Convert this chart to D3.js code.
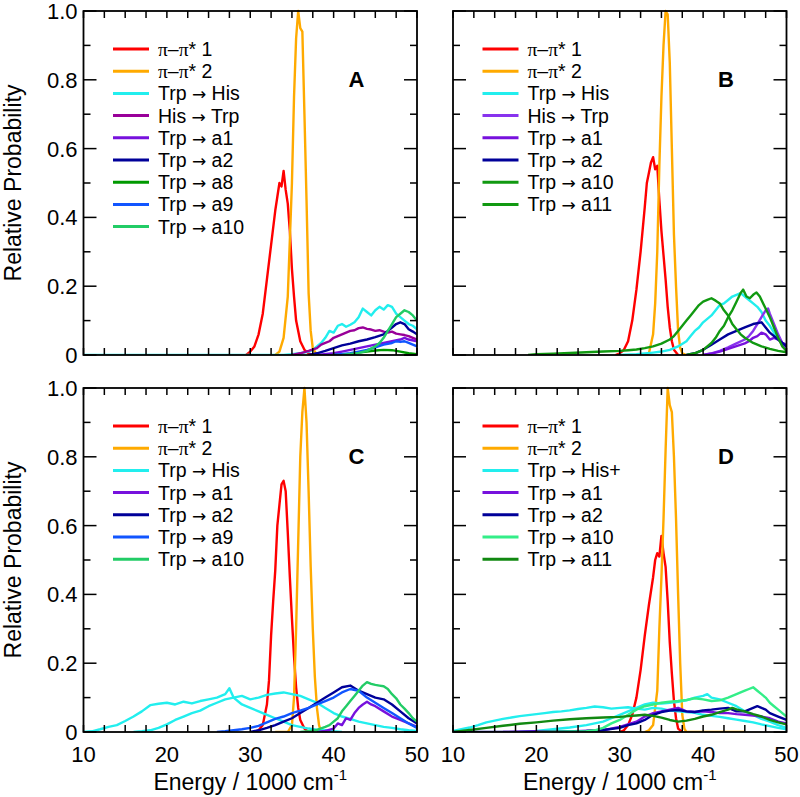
<!DOCTYPE html>
<html><head><meta charset="utf-8">
<script src="https://cdn.jsdelivr.net/npm/d3@7"></script>
<style>body{margin:0;background:#fff}svg{display:block}</style>
</head><body>
<svg id="chart" width="800" height="797"></svg>
<script>
// ---------- tick values ----------
const xTicks = [10,12.5,15,17.5,20,22.5,25,27.5,30,32.5,35,37.5,40,42.5,45,47.5,50];
const xTickLabels = [10,20,30,40,50];
const yTicks = [0,0.1,0.2,0.3,0.4,0.5,0.6,0.7,0.8,0.9,1.0];
const yTickLabels = [0,0.2,0.4,0.6,0.8,1.0];
const panelLetters = ["A","B","C","D"];

// ---------- Panel A data ----------
const A_pp1 = [[29.5,0],[30,0.01],[30.5,0.025],[31,0.06],[31.5,0.12],[32,0.22],[32.5,0.32],[33,0.42],[33.25,0.46],[33.5,0.5],[33.75,0.49],[34,0.535],[34.25,0.48],[34.5,0.44],[34.75,0.36],[35,0.25],[35.25,0.17],[35.5,0.1],[36,0.04],[36.5,0.015],[37,0.005],[37.5,0]];
const A_pp2 = [[33,0],[33.5,0.01],[34,0.05],[34.5,0.17],[35,0.5],[35.25,0.75],[35.5,0.92],[35.75,1.0],[36,0.95],[36.25,0.94],[36.5,0.7],[36.75,0.45],[37,0.18],[37.25,0.07],[37.5,0.02],[38,0]];
const A_his = [[10,0],[34,0],[35,0.002],[36,0.005],[37,0.01],[37.5,0.015],[38,0.025],[38.5,0.035],[39,0.05],[39.5,0.07],[40,0.065],[40.5,0.085],[41,0.09],[41.5,0.082],[42,0.088],[42.5,0.095],[43,0.11],[43.5,0.135],[44,0.125],[44.5,0.115],[45,0.13],[45.5,0.14],[46,0.132],[46.5,0.145],[47,0.14],[47.5,0.12],[48,0.11],[48.5,0.1],[49,0.09],[49.5,0.085],[50,0.075]];
const A_hisTrp = [[35,0],[36,0.005],[37,0.012],[38,0.02],[38.5,0.03],[39,0.035],[39.5,0.04],[40,0.05],[40.5,0.055],[41,0.06],[41.5,0.065],[42,0.07],[42.5,0.072],[43,0.078],[43.5,0.08],[44,0.076],[44.5,0.074],[45,0.07],[45.5,0.072],[46,0.068],[46.5,0.065],[47,0.068],[47.5,0.062],[48,0.06],[48.5,0.058],[49,0.055],[49.5,0.05],[50,0.045]];
const A_a1 = [[38,0],[40,0.005],[41,0.01],[42,0.015],[43,0.02],[44,0.025],[45,0.03],[46,0.035],[47,0.04],[48,0.045],[48.5,0.05],[49,0.045],[50,0.04]];
const A_a2 = [[37,0],[38,0.005],[39,0.012],[40,0.02],[41,0.028],[42,0.033],[43,0.04],[44,0.045],[45,0.052],[46,0.06],[46.5,0.07],[47,0.08],[47.5,0.09],[48,0.095],[48.5,0.09],[49,0.075],[49.5,0.068],[50,0.06]];
const A_a8 = [[40,0],[42,0.003],[43,0.007],[44,0.01],[45,0.013],[46,0.015],[47,0.014],[48,0.01],[49,0.005],[50,0.002]];
const A_a9 = [[40,0],[42,0.005],[43,0.01],[44,0.015],[45,0.022],[46,0.03],[47,0.035],[47.5,0.04],[48,0.038],[48.5,0.04],[49,0.035],[49.5,0.03],[50,0.025]];
const A_a10 = [[41,0],[42,0.003],[43,0.006],[44,0.012],[45,0.025],[45.5,0.035],[46,0.05],[46.5,0.07],[47,0.09],[47.5,0.11],[48,0.12],[48.5,0.13],[49,0.125],[49.5,0.115],[50,0.1]];

// ---------- Panel B data ----------
const B_pp1 = [[29.5,0],[30,0.005],[30.5,0.015],[31,0.04],[31.5,0.1],[32,0.19],[32.5,0.3],[33,0.43],[33.25,0.5],[33.5,0.53],[33.75,0.56],[34,0.575],[34.25,0.54],[34.5,0.55],[34.75,0.45],[35,0.36],[35.25,0.29],[35.5,0.22],[35.75,0.14],[36,0.08],[36.25,0.04],[36.5,0.015],[37,0]];
const B_pp2 = [[33,0],[33.5,0.005],[34,0.06],[34.25,0.15],[34.5,0.3],[34.75,0.55],[35,0.75],[35.25,0.9],[35.5,1.0],[35.75,0.99],[36,0.85],[36.25,0.6],[36.5,0.35],[36.75,0.2],[37,0.07],[37.25,0.02],[37.5,0.005],[38,0]];
const B_his = [[30,0],[32,0.002],[34,0.007],[35,0.01],[36,0.015],[37,0.025],[38,0.04],[38.5,0.055],[39,0.07],[39.5,0.08],[40,0.095],[40.5,0.105],[41,0.115],[41.5,0.13],[42,0.145],[42.5,0.15],[43,0.16],[43.5,0.17],[44,0.175],[44.5,0.18],[45,0.17],[45.5,0.16],[46,0.15],[46.5,0.14],[47,0.125],[47.5,0.1],[48,0.085],[48.5,0.065],[49,0.05],[49.5,0.035],[50,0.025]];
const B_hisTrp = [[40,0],[41,0.005],[42,0.012],[43,0.022],[44,0.034],[45,0.045],[45.5,0.055],[46,0.07],[46.5,0.09],[47,0.11],[47.5,0.13],[47.8,0.135],[48,0.12],[48.5,0.09],[49,0.06],[49.5,0.035],[50,0.02]];
const B_a1 = [[40,0],[41,0.004],[42,0.01],[43,0.018],[44,0.026],[45,0.034],[45.5,0.04],[46,0.05],[46.5,0.055],[47,0.065],[47.5,0.06],[48,0.045],[48.5,0.05],[49,0.045],[49.5,0.035],[50,0.03]];
const B_a2 = [[38,0],[39,0.005],[40,0.015],[41,0.03],[42,0.045],[43,0.06],[44,0.07],[45,0.08],[46,0.09],[47,0.095],[47.5,0.08],[48,0.065],[49,0.045],[50,0.025]];
const B_a10 = [[19,0],[20,0.002],[22,0.004],[24,0.006],[26,0.008],[28,0.01],[30,0.012],[31,0.014],[32,0.016],[33,0.02],[34,0.025],[35,0.033],[36,0.045],[36.5,0.055],[37,0.07],[37.5,0.085],[38,0.1],[38.5,0.115],[39,0.13],[39.5,0.145],[40,0.155],[40.5,0.16],[41,0.165],[41.5,0.158],[42,0.15],[42.5,0.13],[43,0.115],[43.5,0.09],[44,0.075],[44.5,0.06],[45,0.05],[46,0.035],[47,0.025],[48,0.018],[49,0.012],[50,0.008]];
const B_a11 = [[38,0],[39,0.005],[40,0.015],[41,0.035],[41.5,0.05],[42,0.07],[42.5,0.085],[43,0.11],[43.5,0.13],[44,0.155],[44.5,0.18],[44.8,0.19],[45.2,0.17],[45.6,0.165],[46,0.175],[46.4,0.182],[46.8,0.17],[47.2,0.15],[47.6,0.13],[48,0.11],[48.5,0.08],[49,0.05],[49.5,0.025],[50,0.012]];

// ---------- Panel C data ----------
const C_pp1 = [[30.5,0],[31,0.005],[31.5,0.02],[32,0.08],[32.25,0.15],[32.5,0.28],[32.75,0.38],[33,0.47],[33.25,0.6],[33.5,0.66],[33.75,0.72],[34,0.73],[34.25,0.7],[34.5,0.58],[34.75,0.45],[35,0.33],[35.25,0.22],[35.5,0.13],[35.75,0.07],[36,0.035],[36.5,0.01],[37,0]];
const C_pp2 = [[33,0],[34.5,0],[35,0.02],[35.25,0.1],[35.5,0.3],[35.75,0.55],[36,0.8],[36.25,0.93],[36.5,1.0],[36.75,0.9],[37,0.7],[37.25,0.48],[37.5,0.3],[37.75,0.16],[38,0.07],[38.25,0.02],[38.5,0]];
const C_his1 = [[10,0],[11,0.002],[12,0.008],[13,0.015],[14,0.02],[15,0.032],[16,0.045],[17,0.06],[18,0.078],[19,0.082],[20,0.085],[21,0.08],[22,0.088],[23,0.083],[24,0.09],[25,0.095],[26,0.1],[27,0.11],[27.5,0.127],[28,0.1],[29,0.08],[30,0.07],[31,0.06],[32,0.05],[33,0.04],[34,0.03],[35,0.02],[36,0.015],[37,0.01],[38,0.007],[39,0.005],[40,0.002],[41,0]];
const C_his2 = [[16,0],[17,0.002],[18,0.005],[19,0.012],[20,0.022],[21,0.035],[22,0.045],[23,0.055],[24,0.062],[25,0.075],[26,0.085],[27,0.095],[28,0.1],[29,0.105],[30,0.095],[31,0.1],[32,0.108],[33,0.112],[34,0.115],[35,0.11],[36,0.105],[37,0.095],[38,0.085],[39,0.07],[40,0.055],[41,0.045],[42,0.038],[43,0.03],[44,0.025],[45,0.02],[46,0.015],[47,0.012],[48,0.008],[49,0.005],[50,0.003]];
const C_a1 = [[38,0],[39,0.003],[40,0.01],[40.5,0.025],[41,0.02],[41.5,0.04],[42,0.035],[42.5,0.055],[43,0.07],[43.5,0.08],[44,0.088],[44.5,0.08],[45,0.075],[46,0.06],[47,0.045],[48,0.035],[49,0.025],[50,0.015]];
const C_a2 = [[30,0],[31,0.005],[32,0.012],[33,0.02],[34,0.03],[35,0.04],[36,0.055],[37,0.07],[38,0.085],[39,0.1],[40,0.115],[41,0.13],[42,0.135],[43,0.12],[44,0.11],[45,0.1],[46,0.095],[47,0.08],[48,0.06],[49,0.04],[50,0.025]];
const C_a9 = [[26,0],[27,0.002],[28,0.005],[29,0.008],[30,0.012],[31,0.018],[32,0.028],[33,0.038],[34,0.045],[35,0.055],[36,0.062],[37,0.07],[38,0.08],[39,0.09],[40,0.1],[41,0.115],[42,0.125],[43,0.12],[44,0.1],[45,0.085],[46,0.07],[47,0.055],[48,0.04],[49,0.025],[50,0.012]];
const C_a10 = [[36,0],[37,0.002],[38,0.006],[39,0.015],[39.5,0.02],[40,0.03],[40.5,0.04],[41,0.06],[41.5,0.075],[42,0.09],[42.5,0.105],[43,0.12],[43.5,0.135],[44,0.145],[44.5,0.14],[45,0.137],[45.5,0.135],[46,0.133],[46.5,0.125],[47,0.11],[47.5,0.098],[48,0.08],[48.5,0.068],[49,0.055],[49.5,0.04],[50,0.03]];

// ---------- Panel D data ----------
const D_pp1 = [[30,0],[30.5,0.005],[31,0.02],[31.5,0.05],[32,0.1],[32.5,0.18],[33,0.28],[33.5,0.37],[34,0.45],[34.25,0.5],[34.5,0.52],[34.75,0.51],[35,0.57],[35.25,0.52],[35.5,0.48],[35.75,0.38],[36,0.26],[36.25,0.17],[36.5,0.09],[36.75,0.04],[37,0.01],[37.5,0]];
const D_pp2 = [[33,0],[33.5,0.005],[34,0.02],[34.5,0.12],[34.75,0.3],[35,0.45],[35.25,0.62],[35.5,0.82],[35.75,1.0],[36,0.95],[36.25,0.93],[36.5,0.8],[36.75,0.62],[37,0.4],[37.25,0.2],[37.5,0.05],[37.75,0.01],[38,0],[45,0]];
const D_his1 = [[10,0.003],[11,0.008],[12,0.013],[13,0.02],[14,0.028],[15,0.033],[16,0.038],[17,0.042],[18,0.046],[19,0.049],[20,0.052],[21,0.055],[22,0.058],[23,0.06],[24,0.063],[25,0.067],[26,0.07],[27,0.074],[28,0.072],[29,0.068],[30,0.07],[31,0.072],[32,0.068],[33,0.065],[34,0.07],[35,0.068],[36,0.062],[37,0.06],[38,0.058],[39,0.056],[40,0.05],[41,0.047],[42,0.044],[43,0.04],[44,0.036],[45,0.032],[46,0.028],[47,0.022],[48,0.017],[49,0.012],[50,0.008]];
const D_his2 = [[18,0],[20,0.003],[22,0.008],[24,0.013],[26,0.02],[28,0.03],[29,0.04],[30,0.05],[31,0.06],[32,0.07],[33,0.08],[34,0.085],[35,0.083],[36,0.085],[37,0.088],[38,0.092],[39,0.1],[40,0.105],[40.5,0.11],[41,0.1],[42,0.095],[43,0.085],[44,0.075],[45,0.06],[46,0.05],[47,0.038],[48,0.03],[49,0.02],[50,0.012]];
const D_a1 = [[16,0],[20,0.002],[22,0],[28,0.005],[30,0.015],[32,0.03],[33,0.045],[34,0.055],[35,0.06],[36,0.065],[37,0.07],[38,0.06],[39,0.058],[40,0.06],[41,0.058],[42,0.055],[43,0.055],[44,0.052],[45,0.05],[46,0.048],[47,0.045],[48,0.04],[49,0.03],[50,0.025]];
const D_a2 = [[10,0],[20,0],[26,0.003],[28,0.006],[30,0.012],[31,0.02],[32,0.025],[33,0.035],[34,0.05],[35,0.058],[36,0.062],[37,0.064],[38,0.06],[39,0.058],[40,0.063],[41,0.065],[42,0.068],[43,0.07],[44,0.06],[45,0.06],[46,0.07],[46.5,0.075],[47,0.07],[47.5,0.065],[48,0.055],[49,0.045],[50,0.035]];
const D_a10 = [[20,0],[26,0.002],[27,0.005],[28,0.012],[29,0.025],[30,0.035],[31,0.05],[32,0.065],[33,0.075],[34,0.08],[35,0.085],[36,0.088],[37,0.09],[38,0.093],[39,0.098],[40,0.095],[41,0.09],[42,0.092],[43,0.1],[44,0.11],[45,0.12],[45.5,0.125],[46,0.13],[46.5,0.12],[47,0.11],[47.5,0.1],[48,0.085],[48.5,0.075],[49,0.065],[50,0.045]];
const D_a11 = [[10,0],[12,0.006],[14,0.012],[16,0.018],[18,0.024],[20,0.028],[22,0.033],[24,0.037],[26,0.04],[28,0.042],[30,0.044],[31,0.046],[32,0.048],[33,0.05],[34,0.047],[35,0.042],[36,0.035],[37,0.03],[38,0.033],[39,0.038],[40,0.045],[41,0.05],[42,0.058],[43,0.065],[43.5,0.07],[44,0.066],[45,0.06],[46,0.052],[47,0.045],[48,0.035],[49,0.028],[50,0.022]];

// ---------- legend labels & colours ----------
const A_labels = ["π–π* 1","π–π* 2","Trp → His","His → Trp","Trp → a1","Trp → a2","Trp → a8","Trp → a9","Trp → a10"];
const A_colors = ["#ff0000","#ffaa00","#22eeee","#990099","#7711dd","#000099","#009900","#1155ff","#22cc66"];
const B_labels = ["π–π* 1","π–π* 2","Trp → His","His → Trp","Trp → a1","Trp → a2","Trp → a10","Trp → a11"];
const B_colors = ["#ff0000","#ffaa00","#22eeee","#8833ee","#7711dd","#000099","#119911","#119911"];
const C_labels = ["π–π* 1","π–π* 2","Trp → His","Trp → a1","Trp → a2","Trp → a9","Trp → a10"];
const C_colors = ["#ff0000","#ffaa00","#22eeee","#7711dd","#000099","#1155ff","#22cc66"];
const D_labels = ["π–π* 1","π–π* 2","Trp → His+","Trp → a1","Trp → a2","Trp → a10","Trp → a11"];
const D_colors = ["#ff0000","#ffaa00","#22eeee","#7711dd","#000099","#33ee88","#118811"];

const panels = [
  {letter:panelLetters[0], left:83.5, top:11, labels:A_labels, colors:A_colors,
   series:[[A_pp1],[A_pp2],[A_his],[A_hisTrp],[A_a1],[A_a2],[A_a8],[A_a9],[A_a10]], yl:true, xl:false},
  {letter:panelLetters[1], left:453, top:11, labels:B_labels, colors:B_colors,
   series:[[B_pp1],[B_pp2],[B_his],[B_hisTrp],[B_a1],[B_a2],[B_a10],[B_a11]], yl:false, xl:false},
  {letter:panelLetters[2], left:83.5, top:388, labels:C_labels, colors:C_colors,
   series:[[C_pp1],[C_pp2],[C_his1,C_his2],[C_a1],[C_a2],[C_a9],[C_a10]], yl:true, xl:true},
  {letter:panelLetters[3], left:453, top:388, labels:D_labels, colors:D_colors,
   series:[[D_pp1],[D_pp2],[D_his1,D_his2],[D_a1],[D_a2],[D_a10],[D_a11]], yl:false, xl:true}
];

const W = 333.5, H = 344;
const FONT = "'Liberation Sans', Arial, sans-serif";
const svg = d3.select("#chart");

panels.forEach((p, pi) => {
  const x = d3.scaleLinear().domain([10,50]).range([0,W]);
  const y = d3.scaleLinear().domain([0,1]).range([H,0]);
  const g = svg.append("g").attr("transform", `translate(${p.left},${p.top})`);

  g.append("clipPath").attr("id","clip"+pi).append("rect")
    .attr("x",0).attr("y",-2).attr("width",W).attr("height",H+2);

  const line = d3.line().x(d=>x(d[0])).y(d=>y(d[1]));
  const plot = g.append("g").attr("clip-path",`url(#clip${pi})`);
  p.series.forEach((sets, si) => {
    sets.forEach(data => {
      plot.append("path").datum(data).attr("d", line)
        .attr("fill","none").attr("stroke", p.colors[si])
        .attr("stroke-width",2.4).attr("stroke-linejoin","round");
    });
  });

  // ticks (inward, all four sides)
  const tk = g.append("g").attr("stroke","#000").attr("stroke-width",1.5);
  xTicks.forEach(v => {
    const L = 7;
    tk.append("line").attr("x1",x(v)).attr("x2",x(v)).attr("y1",H).attr("y2",H-L);
    tk.append("line").attr("x1",x(v)).attr("x2",x(v)).attr("y1",0).attr("y2",L);
  });
  yTicks.forEach(v => {
    const major = Math.round(v*10)%2===0;
    const L = major ? 13 : 7;
    tk.append("line").attr("x1",0).attr("x2",L).attr("y1",y(v)).attr("y2",y(v));
    tk.append("line").attr("x1",W).attr("x2",W-L).attr("y1",y(v)).attr("y2",y(v));
  });
  g.append("rect").attr("x",0).attr("y",0).attr("width",W).attr("height",H)
    .attr("fill","none").attr("stroke","#000").attr("stroke-width",1.8);

  // tick labels
  if (p.yl) {
    g.selectAll(".yl").data(yTickLabels).enter().append("text")
      .attr("x",-6).attr("y",d=>y(d)).attr("dy","0.36em")
      .attr("text-anchor","end").attr("font-family",FONT).attr("font-size",22)
      .text(d=> d===0 ? "0" : d3.format(".1f")(d));
    g.append("text")
      .attr("transform",`translate(${20.5-p.left},${H/2}) rotate(-90)`)
      .attr("text-anchor","middle").attr("font-family",FONT).attr("font-size",23)
      .text("Relative Probability");
  }
  if (p.xl) {
    g.selectAll(".xl").data(xTickLabels).enter().append("text")
      .attr("x",d=>x(d)).attr("y",H+29.5)
      .attr("text-anchor","middle").attr("font-family",FONT).attr("font-size",22)
      .text(d=>d);
    const t = g.append("text").attr("x",W/2).attr("y",H+58)
      .attr("text-anchor","middle").attr("font-family",FONT).attr("font-size",23);
    t.append("tspan").text("Energy / 1000 cm");
    t.append("tspan").attr("dy",-10).attr("font-size",15).text("-1");
  }

  // panel letter
  g.append("text").attr("x",273).attr("y",76.3).attr("text-anchor","middle")
    .attr("font-family",FONT).attr("font-weight","bold").attr("font-size",22)
    .text(p.letter);

  // legend
  const lg = g.append("g");
  p.labels.forEach((lab, i) => {
    const ly = 38 + i*22.2;
    lg.append("line").attr("x1",29.5).attr("x2",65.5).attr("y1",ly).attr("y2",ly)
      .attr("stroke",p.colors[i]).attr("stroke-width",3);
    const t = lg.append("text").attr("x",74.5).attr("y",ly).attr("dy","0.36em")
      .attr("font-family",FONT).attr("font-size",19.5);
    if (lab.startsWith("π")) {
      t.append("tspan").attr("font-family","'Liberation Serif', serif").text("π");
      t.append("tspan").text("–");
      t.append("tspan").attr("font-family","'Liberation Serif', serif").text("π");
      t.append("tspan").text(lab.slice(3));
    } else {
      const parts = lab.split("→");
      t.append("tspan").text(parts[0]);
      t.append("tspan").attr("font-family","'DejaVu Sans', sans-serif").attr("font-size",17).text("→");
      t.append("tspan").text(parts[1]);
    }
  });
});
</script>
</body></html>
